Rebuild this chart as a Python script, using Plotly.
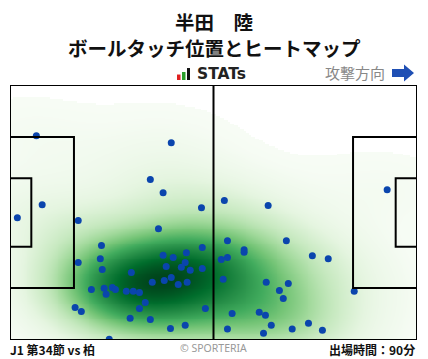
import numpy as np
import plotly.graph_objects as go

# Ball touch positions (metres, pitch 105 x 68, y measured from top edge)
touch_x = [6.8, 41.6, 36.2, 39.5, 49.4, 8.3, 1.9, 17.6, 38.3, 23.6, 23.3, 17.6, 23.8, 31.3,
           39.5, 42.1, 45.5, 49.6, 40.3, 45.2, 44.2, 46.5, 49.6, 36.7, 39.8, 41.6, 43.4, 45.7,
           21.0, 24.3, 26.4, 27.2, 24.8, 30.0, 31.8, 33.4, 34.9, 33.4, 16.8, 18.4, 31.0, 36.2,
           41.4, 45.2, 50.4, 25.6, 55.3, 66.6, 97.3, 56.1, 71.3, 60.4, 60.4, 56.1, 54.5, 78.0,
           82.1, 55.0, 66.1, 71.8, 69.5, 70.5, 88.8, 57.3, 64.3, 65.9, 67.4, 56.1, 65.4, 72.8,
           77.0, 80.6]
touch_y = [13.5, 15.4, 25.2, 28.7, 32.7, 31.9, 35.4, 36.1, 38.3, 42.8, 46.3, 47.3, 49.2, 50.0,
           45.4, 46.0, 44.7, 43.3, 48.4, 47.3, 48.6, 49.4, 48.9, 52.6, 52.1, 51.3, 53.2, 52.6,
           54.5, 54.2, 54.0, 54.5, 55.8, 55.0, 55.0, 55.3, 58.0, 59.6, 59.3, 60.4, 62.2, 62.5,
           64.9, 64.1, 59.6, 67.8, 30.8, 32.1, 27.9, 41.5, 41.5, 43.9, 44.6, 46.0, 46.5, 45.5,
           46.3, 51.8, 52.6, 52.9, 54.8, 56.9, 55.0, 60.9, 60.6, 61.4, 64.1, 65.1, 66.2, 65.1,
           63.5, 65.4]

title_lines = ["半田　陸", "ボールタッチ位置とヒートマップ"]
footer_left = "J1 第34節 vs 柏"
footer_center = "© SPORTERIA"
footer_right = "出場時間：90分"
direction_label = "攻撃方向"

L, W = 105.0, 68.0

# Gaussian KDE (Scott's rule, full covariance) of the touches
pts = np.array([touch_x, touch_y])
n = pts.shape[1]
factor = n ** (-1.0 / 6.0) * 1.3
cov = np.cov(pts) * factor ** 2
inv = np.linalg.inv(cov)
gx = np.linspace(0, L, 211)
gy = np.linspace(0, W, 137)
XX, YY = np.meshgrid(gx, gy)
dens = np.zeros_like(XX)
for px, py in zip(touch_x, touch_y):
    dx = XX - px
    dy = YY - py
    q = inv[0, 0] * dx * dx + 2 * inv[0, 1] * dx * dy + inv[1, 1] * dy * dy
    dens += np.exp(-0.5 * q)
# iso-proportion levels: value = share of mass lying below that density
order = np.argsort(dens.ravel())
flat = dens.ravel()[order]
cum = np.cumsum(flat) / flat.sum()
prop = np.empty_like(cum)
prop[order] = cum
prop = prop.reshape(dens.shape)
thr = 0.004
z = np.where(prop >= thr, (prop - thr) / (1 - thr), np.nan)

greens = [[0.0, "#f7fcf5"], [0.125, "#e5f5e0"], [0.25, "#c7e9c0"], [0.375, "#a1d99b"],
          [0.5, "#74c476"], [0.625, "#41ab5d"], [0.75, "#238b45"], [0.875, "#006d2c"],
          [1.0, "#00441b"]]

fig = go.Figure()
fig.add_trace(go.Heatmap(x=gx, y=gy, z=z, colorscale=greens, zmin=0, zmax=1,
                         zsmooth="best", showscale=False, hoverinfo="skip"))
fig.add_trace(go.Scatter(x=touch_x, y=touch_y, mode="markers",
                         marker=dict(size=7, color="#0a45ad"), hoverinfo="skip"))

line = dict(color="black", width=2)
pa_d, pa_w = 16.5, 40.32
ga_d, ga_w = 5.5, 18.32
shapes = [
    dict(type="rect", x0=0, x1=L, y0=0, y1=W, line=line),
    dict(type="line", x0=L / 2, x1=L / 2, y0=0, y1=W, line=line),
    dict(type="rect", x0=0, x1=pa_d, y0=(W - pa_w) / 2, y1=(W + pa_w) / 2, line=line),
    dict(type="rect", x0=0, x1=ga_d, y0=(W - ga_w) / 2, y1=(W + ga_w) / 2, line=line),
    dict(type="rect", x0=L - pa_d, x1=L, y0=(W - pa_w) / 2, y1=(W + pa_w) / 2, line=line),
    dict(type="rect", x0=L - ga_d, x1=L, y0=(W - ga_w) / 2, y1=(W + ga_w) / 2, line=line),
]
for s in shapes:
    s.update(xref="x", yref="y", layer="above")

# pixel helpers for decorations outside the plot area
PL, PT, PW, PH = 10, 84.5, 407, 255.5
def xp(px):
    return (px - PL) / PW
def yp(py):
    return 1 - (py - PT) / PH

# STATs logo bars
for x0, x1, top, col in [(177, 180.5, 74, "#e02020"), (182, 185.5, 71.5, "#2ca02c"), (187, 190, 67.5, "#111111")]:
    shapes.append(dict(type="rect", xref="paper", yref="paper", x0=xp(x0), x1=xp(x1),
                       y0=yp(79.5), y1=yp(top), fillcolor=col, line=dict(width=0)))
# direction arrow
arrow = (f"M {xp(392)},{yp(68.5)} L {xp(404)},{yp(68.5)} L {xp(404)},{yp(64)} L {xp(414)},{yp(72.5)} "
         f"L {xp(404)},{yp(81)} L {xp(404)},{yp(76.5)} L {xp(392)},{yp(76.5)} Z")
shapes.append(dict(type="path", xref="paper", yref="paper", path=arrow,
                   fillcolor="#1f4fb4", line=dict(width=0)))

cjk = "Noto Sans CJK JP"
ann = [
    dict(text="<b>" + title_lines[0] + "</b>", x=xp(214), y=yp(20.5),
         font=dict(size=19.5, family=cjk, color="#111")),
    dict(text="<b>" + title_lines[1] + "</b>", x=xp(214), y=yp(46.5),
         font=dict(size=19.5, family=cjk, color="#111")),
    dict(text="<b>STATs</b>", x=xp(196), y=yp(73.5), xanchor="left", font=dict(size=15.5, family="DejaVu Sans", color="#222")),
    dict(text=direction_label, x=xp(386), y=yp(72), xanchor="right", font=dict(size=15, family=cjk, color="#888")),
    dict(text="<b>" + footer_left + "</b>", x=xp(9), y=yp(349.5), xanchor="left", font=dict(size=12, family=cjk, color="#111")),
    dict(text=footer_center, x=xp(213), y=yp(348.5), font=dict(size=10.5, family="Noto Sans", color="#999")),
    dict(text="<b>" + footer_right + "</b>", x=xp(416), y=yp(349.5), xanchor="right", font=dict(size=12, family=cjk, color="#111")),
]
for a in ann:
    a.update(xref="paper", yref="paper", showarrow=False, yanchor="middle", borderpad=0)
    a.setdefault("xanchor", "center")

fig.update_layout(
    width=428, height=359,
    margin=dict(l=10, r=11, t=84.5, b=19),
    paper_bgcolor="white", plot_bgcolor="white",
    xaxis=dict(range=[0, L], visible=False, fixedrange=True),
    yaxis=dict(range=[W, 0], visible=False, fixedrange=True),
    shapes=shapes, annotations=ann, showlegend=False,
)
fig.write_html("out.html")
